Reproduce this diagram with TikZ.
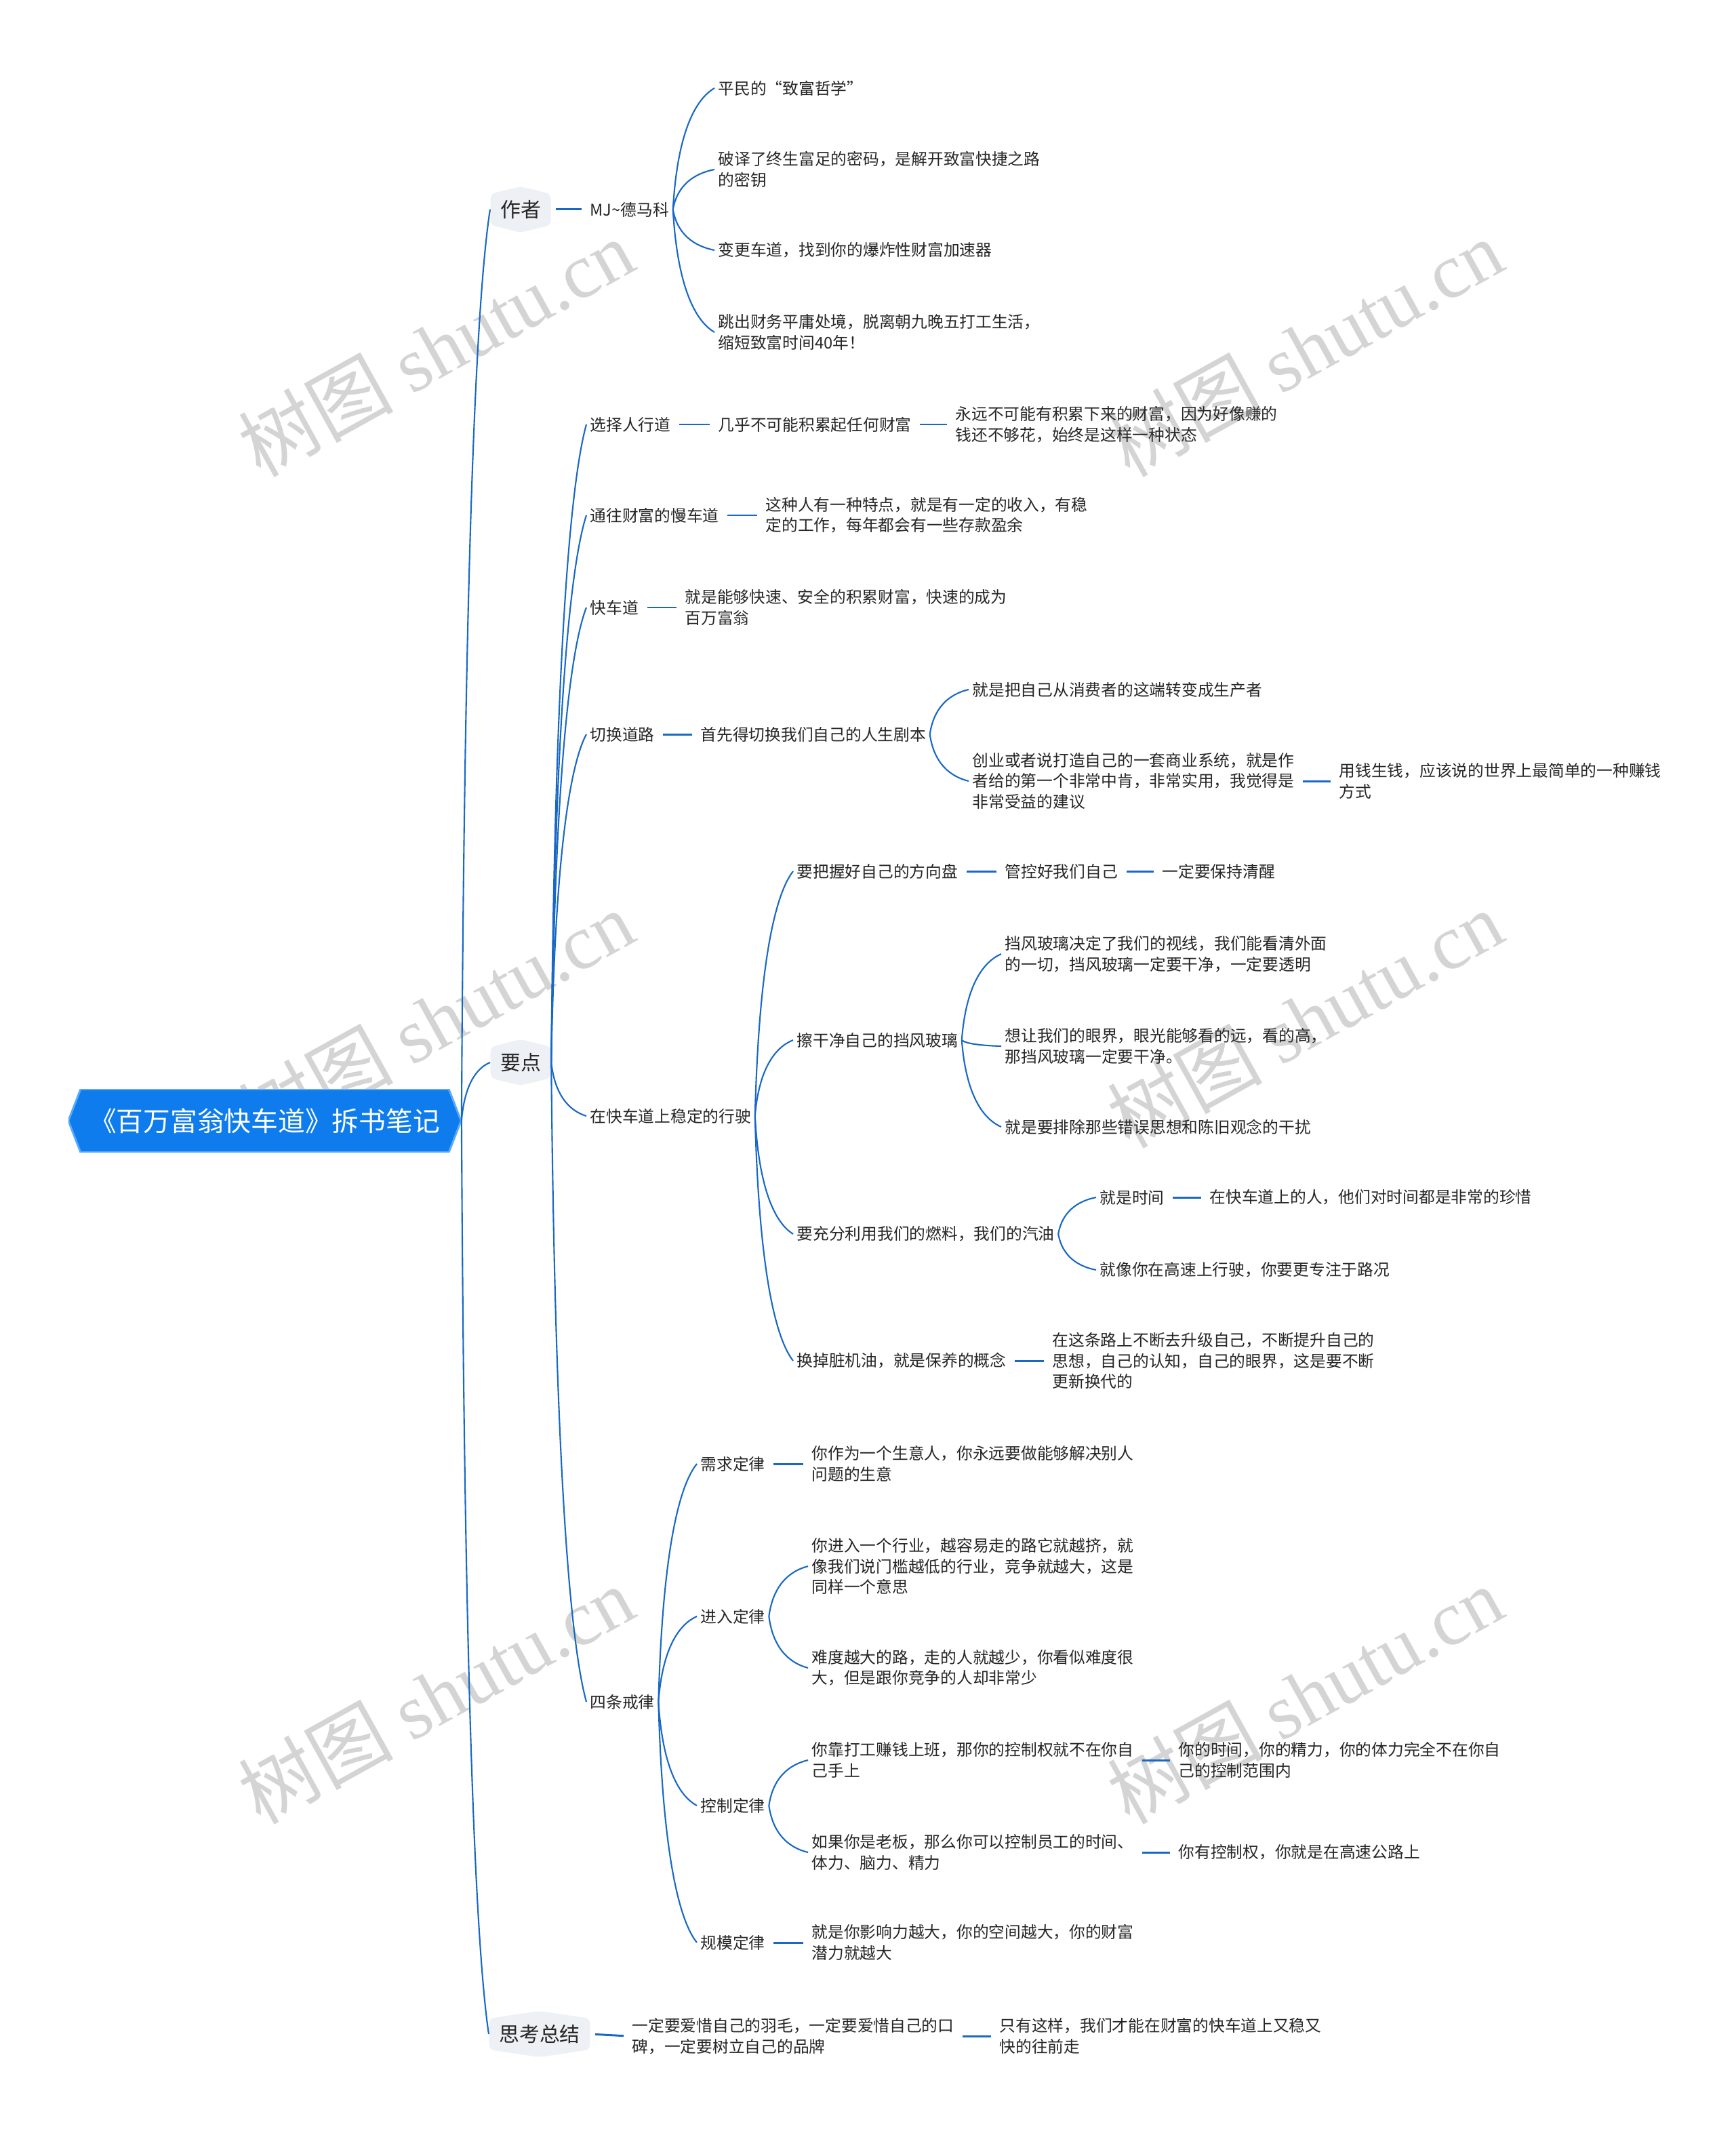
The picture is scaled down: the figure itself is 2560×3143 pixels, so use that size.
\documentclass[tikz,border=0pt]{standalone}
\usepackage{fontspec}
\setmainfont{Noto Sans CJK SC}
\newfontfamily\wmserif{Liberation Serif}
\usetikzlibrary{calc}
\definecolor{connc}{RGB}{24,104,196}
\definecolor{rootc}{RGB}{14,124,236}
\definecolor{rootedge}{RGB}{90,170,250}
\definecolor{lonec}{RGB}{237,240,245}
\definecolor{textc}{RGB}{38,38,38}
\definecolor{wmc}{RGB}{212,212,212}
\newcommand\cv[2]{%
  \path ($(#1)!0.1!(#2)$) coordinate (qa) ($(#1)!0.6!(#2)$) coordinate (qb)
        ($(#1)!0.5!(#2)$) coordinate (qc) ($(#1)!0.9!(#2)$) coordinate (qd);
  \draw[conn] (#1) .. controls (qa |- qb) and (qc |- qd) .. (#2);}
\newcommand\st[2]{\draw[conn, line width=0.85pt, shorten <=0.07cm, shorten >=0.07cm] (#1.east) -- (#2.west);}
\begin{document}
\begin{tikzpicture}[x=0.01cm, y=-0.01cm,
  conn/.style={draw=connc, line width=0.6pt},
  rootn/.style={inner sep=0pt, minimum width=5.79cm, minimum height=0.93cm, text=white,
    font=\fontsize{11.3pt}{13pt}\selectfont,
    path picture={\fill[rootc, draw=rootedge, line width=0.8pt]
      (path picture bounding box.west) -- ([xshift=0.18cm]path picture bounding box.north west)
      -- ([xshift=-0.18cm]path picture bounding box.north east) -- (path picture bounding box.east)
      -- ([xshift=-0.18cm]path picture bounding box.south east) -- ([xshift=0.18cm]path picture bounding box.south west) -- cycle;}},
  lone/.style={anchor=west, inner xsep=0.145cm, inner ysep=0pt, minimum height=0.68cm, text=textc,
    font=\fontsize{8.5pt}{10pt}\selectfont,
    path picture={\fill[lonec, rounded corners=2pt]
      ([yshift=-0.11cm]path picture bounding box.north west) -- (path picture bounding box.north)
      -- ([yshift=-0.11cm]path picture bounding box.north east) -- ([yshift=0.11cm]path picture bounding box.south east)
      -- (path picture bounding box.south) -- ([yshift=0.11cm]path picture bounding box.south west) -- cycle;}},
  leaf/.style={anchor=west, xshift=-0.05cm, inner xsep=0.05cm, inner ysep=0.03cm, align=left, text=textc,
    font=\fontsize{6.75pt}{8.65pt}\selectfont},
  wm/.style={rotate=29, text=wmc, font=\fontsize{32.5pt}{37pt}\selectfont, inner sep=0pt}]
\fill[white] (0,0) rectangle (2560,3143);
\useasboundingbox (0,0) rectangle (2560,3143);
% watermarks
\node[wm] (w1) at (643,513) {树图 {\wmserif shutu.cn}};
\node[wm] (w2) at (1925,513) {树图 {\wmserif shutu.cn}};
\node[wm] (w3) at (643,1503) {树图 {\wmserif shutu.cn}};
\node[wm] (w4) at (1925,1503) {树图 {\wmserif shutu.cn}};
\node[wm] (w5) at (643,2500) {树图 {\wmserif shutu.cn}};
\node[wm] (w6) at (1925,2500) {树图 {\wmserif shutu.cn}};
% root and level 1
\node[rootn] (root) at (390.5,1653) {《百万富翁快车道》拆书笔记};
\node[lone] (zz) at (723,309) {作者};
\node[lone] (yd) at (723,1567) {要点};
\node[lone] (sk) at (721,3000) {思考总结};
% author
\node[leaf] (mj) at (870,309) {MJ\textasciitilde 德马科};
\node[leaf] (a1) at (1059,130) {平民的“致富哲学”};
\node[leaf] (a2) at (1059,250) {破译了终生富足的密码，是解开致富快捷之路\\的密钥};
\node[leaf] (a3) at (1059,369) {变更车道，找到你的爆炸性财富加速器};
\node[leaf] (a4) at (1059,490) {跳出财务平庸处境，脱离朝九晚五打工生活，\\缩短致富时间40年！};
% key points
\node[leaf] (b1) at (870,626) {选择人行道};
\node[leaf] (b1a) at (1059,626) {几乎不可能积累起任何财富};
\node[leaf] (b1b) at (1409,626) {永远不可能有积累下来的财富，因为好像赚的\\钱还不够花，始终是这样一种状态};
\node[leaf] (b2) at (870,760) {通往财富的慢车道};
\node[leaf] (b2a) at (1129,760) {这种人有一种特点，就是有一定的收入，有稳\\定的工作，每年都会有一些存款盈余};
\node[leaf] (b3) at (870,896) {快车道};
\node[leaf] (b3a) at (1010,896) {就是能够快速、安全的积累财富，快速的成为\\百万富翁};
\node[leaf] (b4) at (870,1083) {切换道路};
\node[leaf] (b4a) at (1033,1083) {首先得切换我们自己的人生剧本};
\node[leaf] (b4b) at (1434,1017) {就是把自己从消费者的这端转变成生产者};
\node[leaf] (b4c) at (1434,1152) {创业或者说打造自己的一套商业系统，就是作\\者给的第一个非常中肯，非常实用，我觉得是\\非常受益的建议};
\node[leaf] (b4d) at (1975,1152) {用钱生钱，应该说的世界上最简单的一种赚钱\\方式};
\node[leaf] (b5) at (870,1646) {在快车道上稳定的行驶};
\node[leaf] (c1) at (1175,1285) {要把握好自己的方向盘};
\node[leaf] (c1a) at (1482,1285) {管控好我们自己};
\node[leaf] (c1b) at (1714,1285) {一定要保持清醒};
\node[leaf] (c2) at (1175,1534) {擦干净自己的挡风玻璃};
\node[leaf] (c2a) at (1482,1407) {挡风玻璃决定了我们的视线，我们能看清外面\\的一切，挡风玻璃一定要干净，一定要透明};
\node[leaf] (c2b) at (1482,1543) {想让我们的眼界，眼光能够看的远，看的高，\\那挡风玻璃一定要干净。};
\node[leaf] (c2c) at (1482,1662) {就是要排除那些错误思想和陈旧观念的干扰};
\node[leaf] (c3) at (1175,1820) {要充分利用我们的燃料，我们的汽油};
\node[leaf] (c3a) at (1622,1766) {就是时间};
\node[leaf] (c3b) at (1784,1766) {在快车道上的人，他们对时间都是非常的珍惜};
\node[leaf] (c3c) at (1622,1873) {就像你在高速上行驶，你要更专注于路况};
\node[leaf] (c4) at (1175,2007) {换掉脏机油，就是保养的概念};
\node[leaf] (c4a) at (1552,2007) {在这条路上不断去升级自己，不断提升自己的\\思想，自己的认知，自己的眼界，这是要不断\\更新换代的};
\node[leaf] (b6) at (870,2510) {四条戒律};
\node[leaf] (d1) at (1033,2159) {需求定律};
\node[leaf] (d1a) at (1197,2159) {你作为一个生意人，你永远要做能够解决别人\\问题的生意};
\node[leaf] (d2) at (1033,2384) {进入定律};
\node[leaf] (d2a) at (1197,2310) {你进入一个行业，越容易走的路它就越挤，就\\像我们说门槛越低的行业，竞争就越大，这是\\同样一个意思};
\node[leaf] (d2b) at (1197,2460) {难度越大的路，走的人就越少，你看似难度很\\大，但是跟你竞争的人却非常少};
\node[leaf] (d3) at (1033,2663) {控制定律};
\node[leaf] (d3a) at (1197,2596) {你靠打工赚钱上班，那你的控制权就不在你自\\己手上};
\node[leaf] (d3b) at (1738,2596) {你的时间，你的精力，你的体力完全不在你自\\己的控制范围内};
\node[leaf] (d3c) at (1197,2732) {如果你是老板，那么你可以控制员工的时间、\\体力、脑力、精力};
\node[leaf] (d3d) at (1738,2732) {你有控制权，你就是在高速公路上};
\node[leaf] (d4) at (1033,2865) {规模定律};
\node[leaf] (d4a) at (1197,2865) {就是你影响力越大，你的空间越大，你的财富\\潜力就越大};
% summary
\node[leaf] (e1) at (932,3003) {一定要爱惜自己的羽毛，一定要爱惜自己的口\\碑，一定要树立自己的品牌};
\node[leaf] (e2) at (1474,3003) {只有这样，我们才能在财富的快车道上又稳又\\快的往前走};
% connectors
\cv{root.east}{zz.west}
\cv{root.east}{yd.west}
\cv{root.east}{sk.west}
\st{zz}{mj}
\cv{mj.east}{a1.west}
\cv{mj.east}{a2.west}
\cv{mj.east}{a3.west}
\cv{mj.east}{a4.west}
\cv{yd.east}{b1.west}
\cv{yd.east}{b2.west}
\cv{yd.east}{b3.west}
\cv{yd.east}{b4.west}
\cv{yd.east}{b5.west}
\cv{yd.east}{b6.west}
\st{b1}{b1a}
\st{b1a}{b1b}
\st{b2}{b2a}
\st{b3}{b3a}
\st{b4}{b4a}
\cv{b4a.east}{b4b.west}
\cv{b4a.east}{b4c.west}
\st{b4c}{b4d}
\cv{b5.east}{c1.west}
\cv{b5.east}{c2.west}
\cv{b5.east}{c3.west}
\cv{b5.east}{c4.west}
\st{c1}{c1a}
\st{c1a}{c1b}
\cv{c2.east}{c2a.west}
\cv{c2.east}{c2b.west}
\cv{c2.east}{c2c.west}
\cv{c3.east}{c3a.west}
\cv{c3.east}{c3c.west}
\st{c3a}{c3b}
\st{c4}{c4a}
\cv{b6.east}{d1.west}
\cv{b6.east}{d2.west}
\cv{b6.east}{d3.west}
\cv{b6.east}{d4.west}
\st{d1}{d1a}
\cv{d2.east}{d2a.west}
\cv{d2.east}{d2b.west}
\cv{d3.east}{d3a.west}
\cv{d3.east}{d3c.west}
\st{d3a}{d3b}
\st{d3c}{d3d}
\st{d4}{d4a}
\st{sk}{e1}
\st{e1}{e2}
\end{tikzpicture}
\end{document}
